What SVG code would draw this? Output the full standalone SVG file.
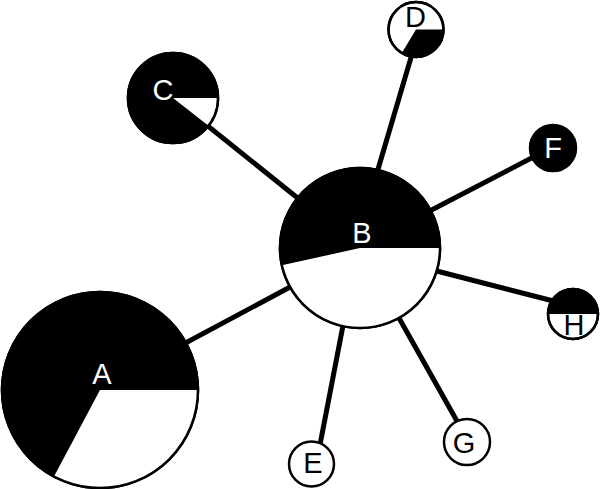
<svg xmlns="http://www.w3.org/2000/svg" width="600" height="489" viewBox="0 0 600 489">
<style>
.edge{stroke:#000;stroke-width:5;fill:none}
.bk{fill:#000;stroke:#000;stroke-width:2.5}
.wh{fill:#fff;stroke:#000;stroke-width:2.5}
.wf{fill:#fff;stroke:none}
.bf{fill:#000;stroke:none}
.ol{fill:none;stroke:#000;stroke-width:2.5}
.lw{font-family:"Liberation Sans",Arial,sans-serif;font-size:29px;fill:#fff;text-anchor:middle}
.lb{font-family:"Liberation Sans",Arial,sans-serif;font-size:29px;fill:#000;text-anchor:middle}
</style>
<rect width="600" height="489" fill="#fff"/>
<g id="connectors">
<line class="edge" x1="150" y1="362" x2="320" y2="271"/>
<line class="edge" x1="173" y1="98" x2="330" y2="224"/>
<line class="edge" x1="371" y1="193" x2="415" y2="44"/>
<line class="edge" x1="420" y1="216" x2="545" y2="151"/>
<line class="edge" x1="425" y1="268" x2="565" y2="304"/>
<line class="edge" x1="390" y1="302" x2="462" y2="430"/>
<line class="edge" x1="346" y1="310" x2="318" y2="455"/>
</g>
<g id="node-A">
<circle class="bk" cx="100" cy="390" r="98"/>
<path class="wf" d="M100,390 L198,390 A98,98 0 0 1 54,476.5 Z"/>
<circle class="ol" cx="100" cy="390" r="98"/>
<text class="lw" x="102" y="384">A</text>
</g>
<g id="node-B">
<circle class="bk" cx="360" cy="248" r="80"/>
<path class="wf" d="M360,248 L440,248 A80,80 0 0 1 281.9,265.3 Z"/>
<circle class="ol" cx="360" cy="248" r="80"/>
<text class="lw" x="362" y="243">B</text>
</g>
<g id="node-C">
<circle class="bk" cx="173" cy="98" r="45"/>
<path class="wf" d="M173,98 L218,98 A45,45 0 0 1 208.5,125.7 Z"/>
<circle class="ol" cx="173" cy="98" r="45"/>
<text class="lw" x="163" y="100">C</text>
</g>
<g id="node-D">
<circle class="wh" cx="416" cy="29.5" r="27.5"/>
<path class="bf" d="M416,29.5 L443.5,29.5 A27.5,27.5 0 0 1 401.8,53.1 Z"/>
<circle class="ol" cx="416" cy="29.5" r="27.5"/>
<text class="lb" x="415.5" y="27">D</text>
</g>
<g id="node-F">
<circle class="bk" cx="553" cy="148" r="23"/>
<text class="lw" x="553" y="158">F</text>
</g>
<g id="node-H">
<circle class="wh" cx="573" cy="314" r="25"/>
<path class="bf" d="M548,314 A25,25 0 0 1 598,314 Z"/>
<circle class="ol" cx="573" cy="314" r="25"/>
<text class="lb" x="574" y="335">H</text>
</g>
<g id="node-E">
<circle class="wh" cx="311.5" cy="464" r="22.5"/>
<text class="lb" x="313" y="473">E</text>
</g>
<g id="node-G">
<circle class="wh" cx="467" cy="442" r="23"/>
<text class="lb" x="464" y="453">G</text>
</g>
</svg>
